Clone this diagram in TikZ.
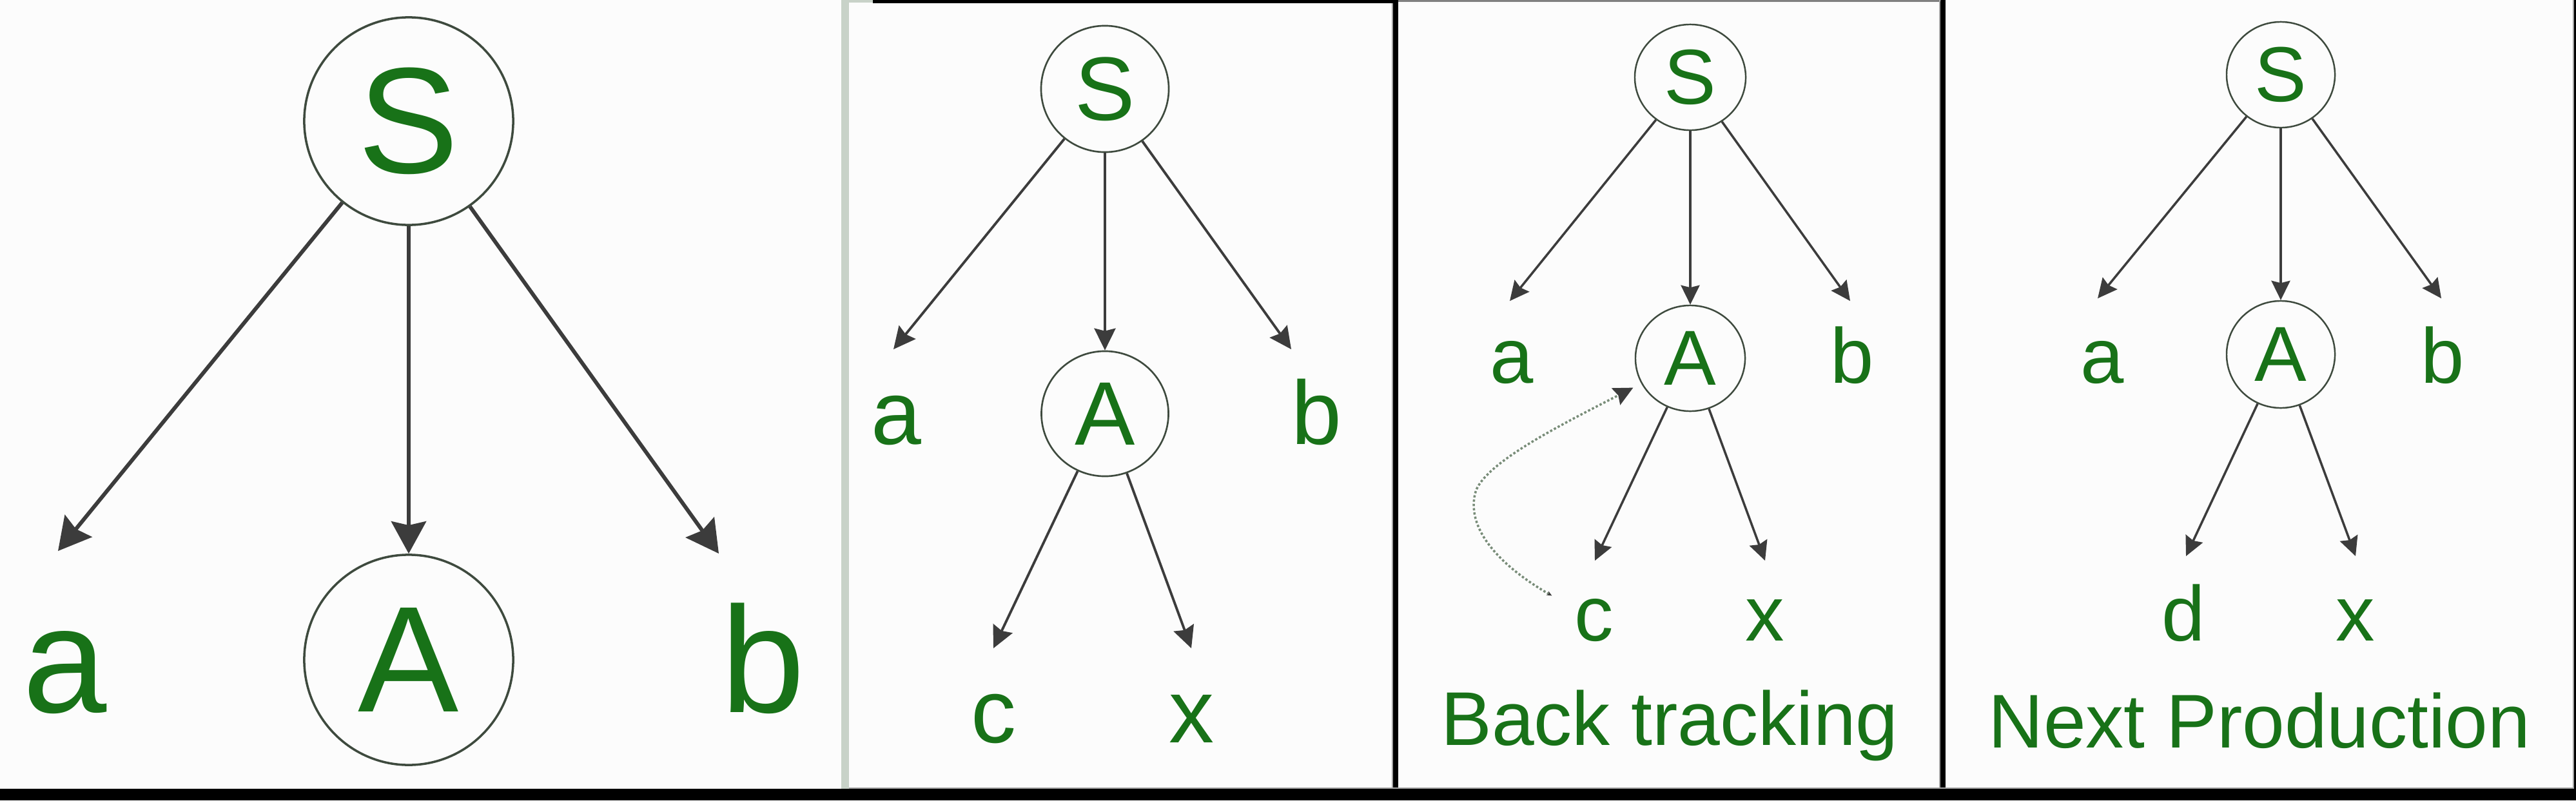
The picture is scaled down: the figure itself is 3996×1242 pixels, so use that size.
\documentclass[tikz,border=0pt]{standalone}
\usepackage{fontspec}
\setmainfont{Liberation Sans}
\usetikzlibrary{arrows.meta,shapes.geometric}
\definecolor{tgreen}{RGB}{24,114,24}
\definecolor{arrcol}{RGB}{60,60,60}
\definecolor{circcol}{RGB}{62,74,62}
\definecolor{bggray}{RGB}{252,252,252}
\definecolor{bandgray}{RGB}{200,210,200}
\definecolor{dotcol}{RGB}{120,140,120}
\newcommand{\fszA}{\fontsize{66.6}{70}\selectfont}
\newcommand{\fszB}{\fontsize{39.8}{42}\selectfont}
\newcommand{\fszC}{\fontsize{34.4}{36}\selectfont}
\newcommand{\fszD}{\fontsize{33.6}{36}\selectfont}
\begin{document}
\begin{tikzpicture}[x=0.01cm,y=-0.01cm,
  nt/.style={ellipse, draw=circcol, text=tgreen, inner sep=0pt},
  lt/.style={text=tgreen, inner sep=0pt, anchor=base},
  arA/.style={draw=arrcol, line width=1.7pt, -{Stealth[length=0.5cm, width=0.54cm, inset=0.06cm]}},
  arB/.style={draw=arrcol, line width=1.1pt, -{Stealth[length=0.34cm, width=0.33cm, inset=0.04cm]}},
  arC/.style={draw=arrcol, line width=1.0pt, -{Stealth[length=0.3cm, width=0.29cm, inset=0.035cm]}},
  btline/.style={draw=dotcol, line width=1.0pt, dash pattern=on 1pt off 0.9pt,
     {Stealth[length=0.08cm, width=0.07cm, color=arrcol]}-{Stealth[length=0.3cm, width=0.29cm, inset=0.04cm, color=arrcol]}}
]
% background and bounding box
\fill[bggray] (0,0) rectangle (3996,1242);
\path[use as bounding box] (0,0) rectangle (3996,1242);

% frame pieces
\fill[bandgray] (1305,0) rectangle (1317,1224);
\fill[bandgray] (1317,0) rectangle (1354,4);
\fill[black] (1354,0) rectangle (2161,5);
\draw[gray!70, line width=0.6pt] (2160,5) -- (2160,1224);
\fill[black] (2161,0) rectangle (2169,1224);
\draw[gray, line width=0.6pt] (2169,1.5) -- (3009,1.5);
\draw[gray!70, line width=0.6pt] (3009,1.5) -- (3009,1224);
\fill[black] (3010,0) rectangle (3018,1224);
\draw[gray!70, line width=0.6pt] (1317,1223) -- (3992,1223) -- (3992,0);
\fill[black] (3993,0) rectangle (3996,1242);
\fill[black] (0,1224) rectangle (3996,1242);

% ---------- panel 1 ----------
\node[nt, line width=1.0pt, minimum width=3.24cm, minimum height=3.22cm, font=\fszA] (S1) at (634,188) {S};
\node[nt, line width=1.0pt, minimum width=3.24cm, minimum height=3.26cm, font=\fszA] (A1) at (634,1024) {A};
\node[lt, font=\fszA] (a1) at (101,1105) {a};
\node[lt, font=\fszA] (b1) at (1184,1105) {b};
\coordinate (ta1) at (90,855);
\coordinate (tb1) at (1115,859);
\draw[arA] (S1) -- (ta1);
\draw[arA] (S1) -- (A1);
\draw[arA] (S1) -- (tb1);

% ---------- panel 2 ----------
\node[nt, line width=0.75pt, minimum width=1.98cm, minimum height=1.96cm, font=\fszB] (S2) at (1714,138) {S};
\node[nt, line width=0.75pt, minimum width=1.97cm, minimum height=1.94cm, font=\fszB] (A2) at (1714,642) {A};
\node[lt, font=\fszB] (a2) at (1390,689) {a};
\node[lt, font=\fszB] (b2) at (2042,689) {b};
\node[lt, font=\fszB] (c2) at (1541,1152) {c};
\node[lt, font=\fszB] (x2) at (1848,1152) {x};
\coordinate (ta2) at (1386,542);
\coordinate (tb2) at (2003,542);
\coordinate (tc2) at (1541,1006);
\coordinate (tx2) at (1848,1006);
\draw[arB] (S2) -- (ta2);
\draw[arB] (S2) -- (A2);
\draw[arB] (S2) -- (tb2);
\draw[arB] (A2) -- (tc2);
\draw[arB] (A2) -- (tx2);

% ---------- panel 3 ----------
\node[nt, line width=0.7pt, minimum width=1.72cm, minimum height=1.64cm, font=\fszC] (S3) at (2622,120) {S};
\node[nt, line width=0.7pt, minimum width=1.70cm, minimum height=1.64cm, font=\fszC] (A3) at (2622,556) {A};
\node[lt, font=\fszC] (a3) at (2345,594) {a};
\node[lt, font=\fszC] (b3) at (2873,594) {b};
\node[lt, font=\fszC] (c3) at (2473,994) {c};
\node[lt, font=\fszC] (x3) at (2738,994) {x};
\node[lt, font=\fszD] (bt) at (2590,1156) {Back tracking};
\coordinate (ta3) at (2342,467);
\coordinate (tb3) at (2870,467);
\coordinate (tc3) at (2474,870);
\coordinate (tx3) at (2738,870);
\draw[arC] (S3) -- (ta3);
\draw[arC] (S3) -- (A3);
\draw[arC] (S3) -- (tb3);
\draw[arC] (A3) -- (tc3);
\draw[arC] (A3) -- (tx3);
\draw[btline, shorten <=0.4cm, shorten >=0.14cm] (c3) .. controls (2330,880) and (2270,820) .. (2290,760)
   .. controls (2310,715) and (2420,660) .. (A3);

% ---------- panel 4 ----------
\node[nt, line width=0.7pt, minimum width=1.68cm, minimum height=1.64cm, font=\fszC] (S4) at (3538,116) {S};
\node[nt, line width=0.7pt, minimum width=1.68cm, minimum height=1.66cm, font=\fszC] (A4) at (3538,550) {A};
\node[lt, font=\fszC] (a4) at (3261,594) {a};
\node[lt, font=\fszC] (b4) at (3789,594) {b};
\node[lt, font=\fszC] (d4) at (3387,994) {d};
\node[lt, font=\fszC] (x4) at (3654,994) {x};
\node[lt, font=\fszD] (np) at (3505,1160) {Next Production};
\coordinate (ta4) at (3254,463);
\coordinate (tb4) at (3787,463);
\coordinate (td4) at (3391,863);
\coordinate (tx4) at (3654,863);
\draw[arC] (S4) -- (ta4);
\draw[arC] (S4) -- (A4);
\draw[arC] (S4) -- (tb4);
\draw[arC] (A4) -- (td4);
\draw[arC] (A4) -- (tx4);
\end{tikzpicture}
\end{document}
